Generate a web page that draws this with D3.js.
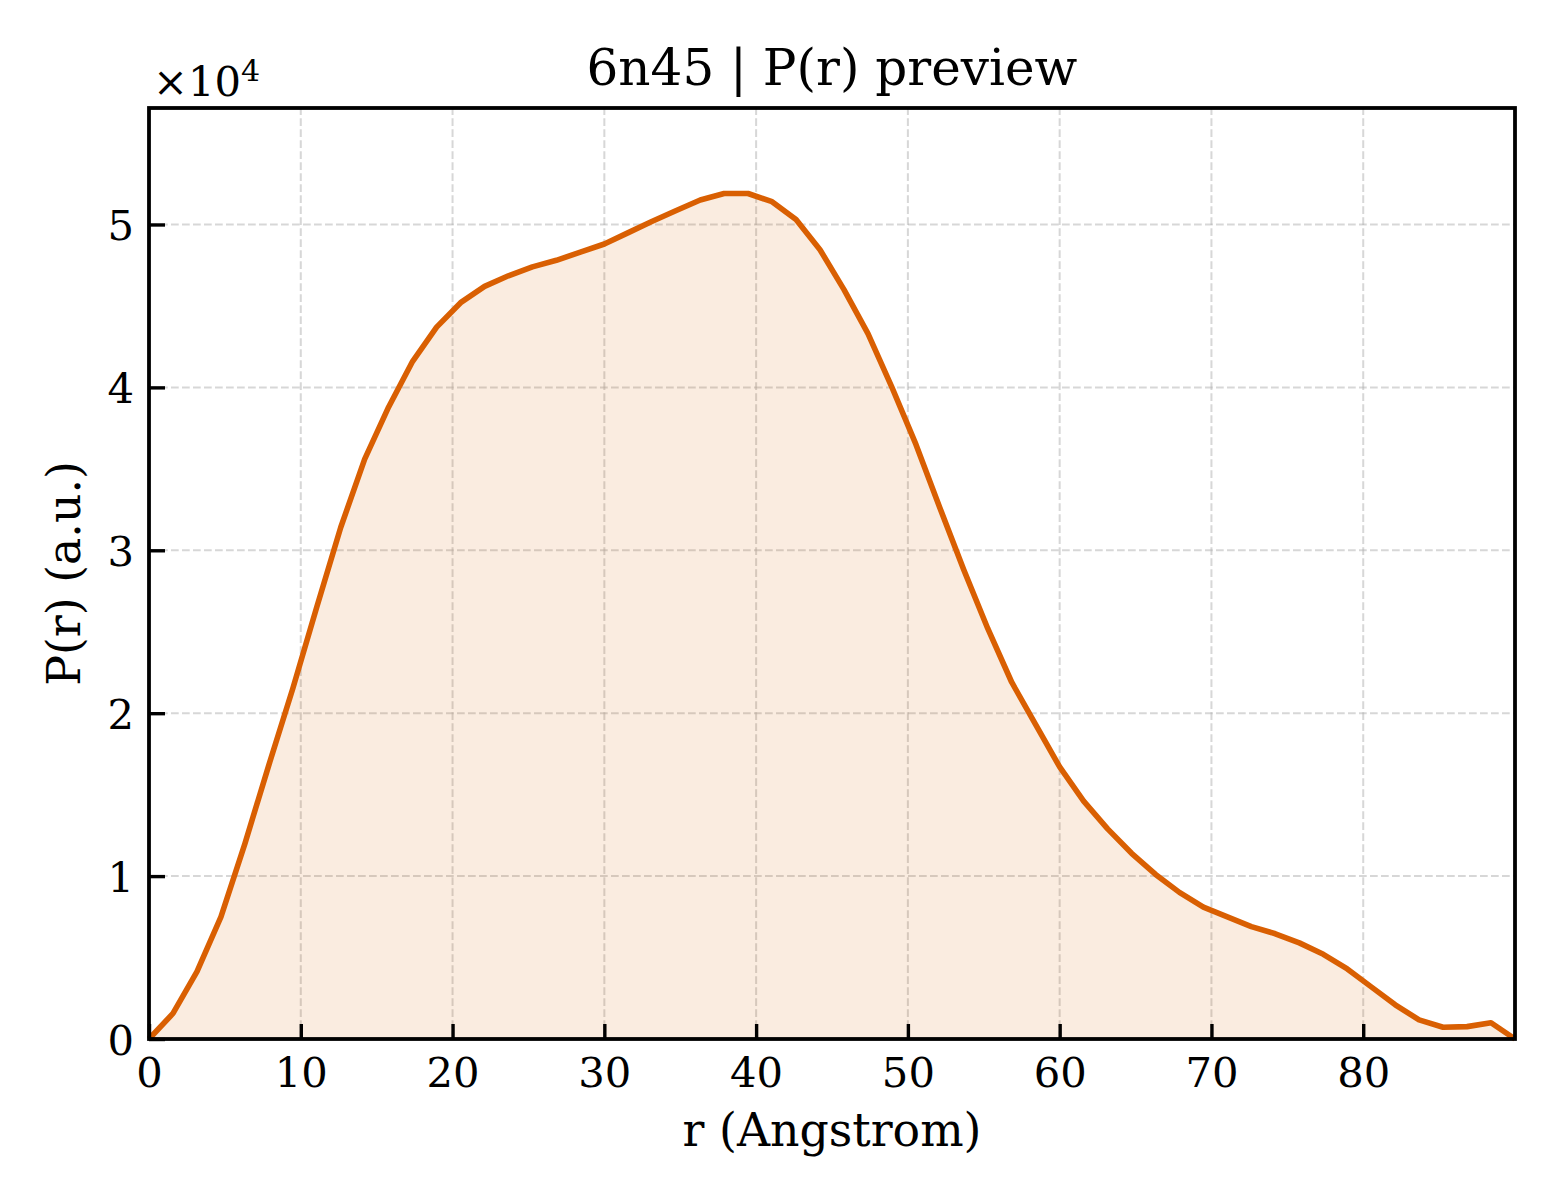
<!DOCTYPE html>
<html>
<head>
<meta charset="utf-8">
<script src="https://cdn.jsdelivr.net/npm/d3@7"></script>
<style>
  body { margin: 0; background: #fff; }
  svg { display: block; font-family: "DejaVu Serif", serif; }
</style>
</head>
<body>
<div id="chart"></div>
<script>
// r grid (Angstrom)
var rValues = [0, 1.58, 3.16, 4.74, 6.32, 7.89, 9.47, 11.05, 12.63, 14.21,
  15.79, 17.37, 18.95, 20.53, 22.11, 23.68, 25.26, 26.84, 28.42, 30.00,
  31.58, 33.16, 34.74, 36.32, 37.89, 39.47, 41.05, 42.63, 44.21, 45.79,
  47.37, 48.95, 50.53, 52.11, 53.68, 55.26, 56.84, 58.42, 60.00, 61.58,
  63.16, 64.74, 66.32, 67.89, 69.47, 71.05, 72.63, 74.21, 75.79, 77.37,
  78.95, 80.53, 82.11, 83.68, 85.26, 86.84, 88.42, 90.00];

// P(r), arbitrary units
var prValues = [0, 1570, 4130, 7500, 12000, 16800, 21500, 26500, 31400, 35600,
  38800, 41600, 43700, 45200, 46200, 46850, 47400, 47800, 48300, 48800,
  49500, 50200, 50860, 51500, 51900, 51900, 51400, 50300, 48450, 46000,
  43300, 40000, 36500, 32600, 28800, 25200, 21900, 19300, 16700, 14600,
  12900, 11400, 10100, 9000, 8100, 7500, 6900, 6460, 5900, 5200,
  4300, 3200, 2100, 1170, 720, 760, 1000, 0];

var xTicks = [0, 10, 20, 30, 40, 50, 60, 70, 80];
var yTicks = [0, 10000, 20000, 30000, 40000, 50000];

var title = "6n45 | P(r) preview";
var xLabel = "r (Angstrom)";
var yLabel = "P(r) (a.u.)";

var width = 1560, height = 1200;
var margin = {left: 149, right: 45, top: 108, bottom: 161};
var innerW = width - margin.left - margin.right;
var innerH = height - margin.top - margin.bottom;

var lineColor = "#d95f02";

var svg = d3.select("#chart").append("svg")
    .attr("width", width)
    .attr("height", height);

svg.append("rect")
    .attr("width", width)
    .attr("height", height)
    .attr("fill", "#fff");

var x = d3.scaleLinear().domain([0, 90]).range([margin.left, margin.left + innerW]);
var y = d3.scaleLinear().domain([0, 57150]).range([margin.top + innerH, margin.top]);

var data = rValues.map(function(r, i){ return [r, prValues[i]]; });

// grid
var grid = svg.append("g").attr("class", "grid");
grid.selectAll("line.gx")
    .data(xTicks.slice(1))
    .enter().append("line")
    .attr("class", "gx")
    .attr("x1", function(d){ return x(d); })
    .attr("x2", function(d){ return x(d); })
    .attr("y1", y.range()[0])
    .attr("y2", y.range()[1]);
grid.selectAll("line.gy")
    .data(yTicks.slice(1))
    .enter().append("line")
    .attr("class", "gy")
    .attr("x1", x.range()[0])
    .attr("x2", x.range()[1])
    .attr("y1", function(d){ return y(d); })
    .attr("y2", function(d){ return y(d); });
grid.selectAll("line")
    .attr("stroke", "#b0b0b0")
    .attr("stroke-opacity", 0.5)
    .attr("stroke-width", 2)
    .attr("stroke-dasharray", "7.7,3.3");

// filled area + line
var area = d3.area()
    .x(function(d){ return x(d[0]); })
    .y0(y(0))
    .y1(function(d){ return y(d[1]); });

var line = d3.line()
    .x(function(d){ return x(d[0]); })
    .y(function(d){ return y(d[1]); });

svg.append("path")
    .datum(data)
    .attr("d", area)
    .attr("fill", lineColor)
    .attr("fill-opacity", 0.12);

svg.append("path")
    .datum(data)
    .attr("d", line)
    .attr("fill", "none")
    .attr("stroke", lineColor)
    .attr("stroke-width", 5.6)
    .attr("stroke-linejoin", "round")
    .attr("stroke-linecap", "butt");

// axes, ticks pointing in
var xAxis = d3.axisBottom(x)
    .tickValues(xTicks)
    .tickSize(-15)
    .tickPadding(0)
    .tickFormat(d3.format("d"));

var yAxis = d3.axisLeft(y)
    .tickValues(yTicks)
    .tickSize(-16)
    .tickPadding(0)
    .tickFormat(function(d){ return d / 10000; });

var gx = svg.append("g")
    .attr("transform", "translate(0," + y(0) + ")")
    .call(xAxis);
gx.select(".domain").remove();
gx.selectAll(".tick line").attr("stroke", "#000").attr("stroke-width", 3.4);
gx.selectAll(".tick text")
    .attr("y", 48)
    .attr("dy", null)
    .attr("fill", "#000")
    .style("font-family", "DejaVu Serif")
    .style("font-size", "41.7px");

var gy = svg.append("g")
    .attr("transform", "translate(" + x(0) + ",0)")
    .call(yAxis);
gy.select(".domain").remove();
gy.selectAll(".tick line").attr("stroke", "#000").attr("stroke-width", 3.4);
gy.selectAll(".tick text")
    .attr("x", -15)
    .attr("dy", "15px")
    .attr("fill", "#000")
    .style("font-family", "DejaVu Serif")
    .style("font-size", "41.7px");

// frame
svg.append("rect")
    .attr("x", x.range()[0])
    .attr("y", y.range()[1])
    .attr("width", innerW)
    .attr("height", innerH)
    .attr("fill", "none")
    .attr("stroke", "#000")
    .attr("stroke-width", 3.8);

// offset text
var offset = svg.append("text")
    .attr("x", 153)
    .attr("y", 96)
    .style("font-size", "41.7px")
    .attr("fill", "#000");
offset.append("tspan").text("×10");
offset.append("tspan")
    .attr("dy", -15)
    .style("font-size", "30px")
    .text("4");

// title and labels
svg.append("text")
    .attr("x", (x.range()[0] + x.range()[1]) / 2)
    .attr("y", 85)
    .attr("text-anchor", "middle")
    .style("font-size", "50px")
    .attr("fill", "#000")
    .text(title);

svg.append("text")
    .attr("x", (x.range()[0] + x.range()[1]) / 2)
    .attr("y", 1146)
    .attr("text-anchor", "middle")
    .style("font-size", "45.8px")
    .attr("fill", "#000")
    .text(xLabel);

svg.append("text")
    .attr("transform", "translate(80," + ((y.range()[0] + y.range()[1]) / 2) + ") rotate(-90)")
    .attr("text-anchor", "middle")
    .style("font-size", "45.8px")
    .attr("fill", "#000")
    .text(yLabel);
</script>
</body>
</html>
